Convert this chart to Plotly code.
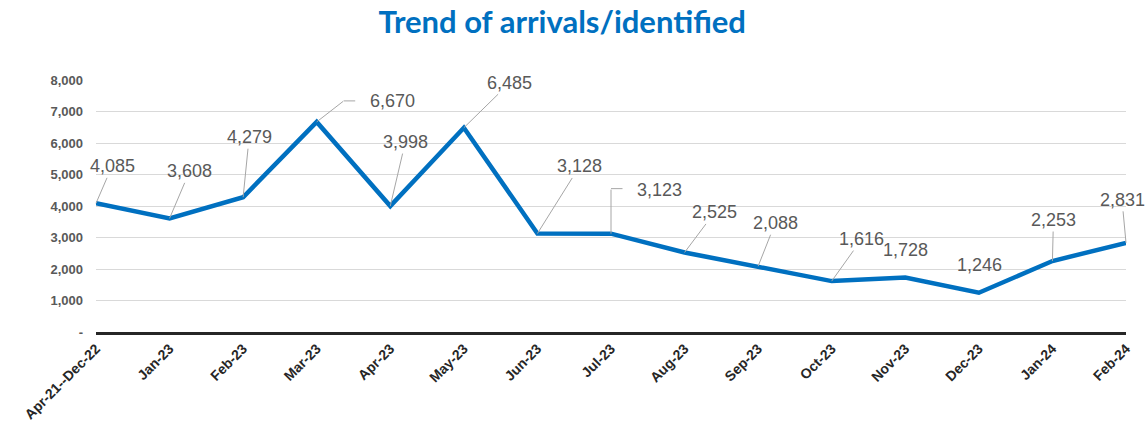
import plotly.graph_objects as go

categories = ["Apr-21--Dec-22", "Jan-23", "Feb-23", "Mar-23", "Apr-23", "May-23", "Jun-23",
              "Jul-23", "Aug-23", "Sep-23", "Oct-23", "Nov-23", "Dec-23", "Jan-24", "Feb-24"]
values = [4085, 3608, 4279, 6670, 3998, 6485, 3128, 3123, 2525, 2088, 1616, 1728, 1246, 2253, 2831]

y_tickvals = [0, 1000, 2000, 3000, 4000, 5000, 6000, 7000, 8000]
y_ticktext = ["-", "1,000", "2,000", "3,000", "4,000", "5,000", "6,000", "7,000", "8,000"]

# label offsets (pixels) from each point to its label centre
label_dx = [16, 20, 6, 76, 15, 46, 42, 48, 30, 17, 30, 0, 1, 1, -4]
label_dy = [-37, -47, -60, -21, -64, -45, -67, -44, -40, -43, -42, -28, -28, -41, -43]
# leader style: "line" straight leader, "none" no leader, (dx, dy, hlen) elbow leader
leader = ["line", "line", "line", (27, -21, 12), "line", "line", "line", (0, -45, 12),
          "line", "line", "line", "none", "none", "line", "line"]

BLUE = "#0070C0"
GRAY_TXT = "#595959"
LEADER = "#A6A6A6"
FONT = "Liberation Sans, Arial"

fig = go.Figure()
fig.add_trace(go.Scatter(
    x=list(range(len(categories))), y=values, mode="lines",
    line=dict(color=BLUE, width=4.5), hoverinfo="skip", showlegend=False,
))

for i, v in enumerate(values):
    ld = leader[i]
    straight = ld == "line"
    fig.add_annotation(
        x=i, y=v, text=f"{v:,}", showarrow=True,
        ax=label_dx[i], ay=label_dy[i],
        arrowhead=0, arrowwidth=1, arrowcolor=LEADER if straight else "rgba(0,0,0,0)",
        standoff=0, borderpad=1,
        font=dict(family=FONT, size=18, color=GRAY_TXT),
    )
    if isinstance(ld, tuple):
        edx, edy, hlen = ld
        # segment from point to elbow
        fig.add_annotation(x=i, y=v, text=" ", showarrow=True, ax=edx, ay=edy,
                           arrowhead=0, arrowwidth=1, arrowcolor=LEADER, standoff=0,
                           borderpad=0, font=dict(size=1))
        # horizontal segment from elbow toward label
        fig.add_annotation(x=i, y=v, xshift=edx, yshift=-edy, text=" ", showarrow=True,
                           ax=hlen, ay=0, arrowhead=0, arrowwidth=1, arrowcolor=LEADER,
                           standoff=0, borderpad=0, font=dict(size=1))

fig.update_layout(
    width=1145, height=434,
    margin=dict(l=96, r=17, t=80, b=101),
    paper_bgcolor="white", plot_bgcolor="white",
    title=dict(text="<b>Trend of arrivals/identified</b>", x=0.491, xref="container",
               xanchor="center", y=0.948, yref="container", yanchor="middle",
               font=dict(family="Lato", size=31, color=BLUE)),
    xaxis=dict(
        range=[0, len(categories) - 1], tickmode="array",
        tickvals=list(range(len(categories))), ticktext=[f"<b>{c}</b>" for c in categories],
        tickangle=-45, tickfont=dict(family=FONT, size=14, color="#262626"),
        showgrid=False, showline=True, linecolor="#262626", linewidth=3, ticks="",
        zeroline=False, fixedrange=True,
    ),
    yaxis=dict(
        range=[0, 8000], tickmode="array", tickvals=y_tickvals,
        ticktext=[f"<b>{t}</b>" for t in y_ticktext],
        tickfont=dict(family=FONT, size=13, color=GRAY_TXT),
        showgrid=True, gridcolor="#D9D9D9", gridwidth=1, zeroline=False,
        showline=False, ticks="", ticklabelstandoff=12, fixedrange=True,
    ),
)

fig.write_html("out.html", config={"displayModeBar": False},
               post_script="document.body.style.margin='0';")
